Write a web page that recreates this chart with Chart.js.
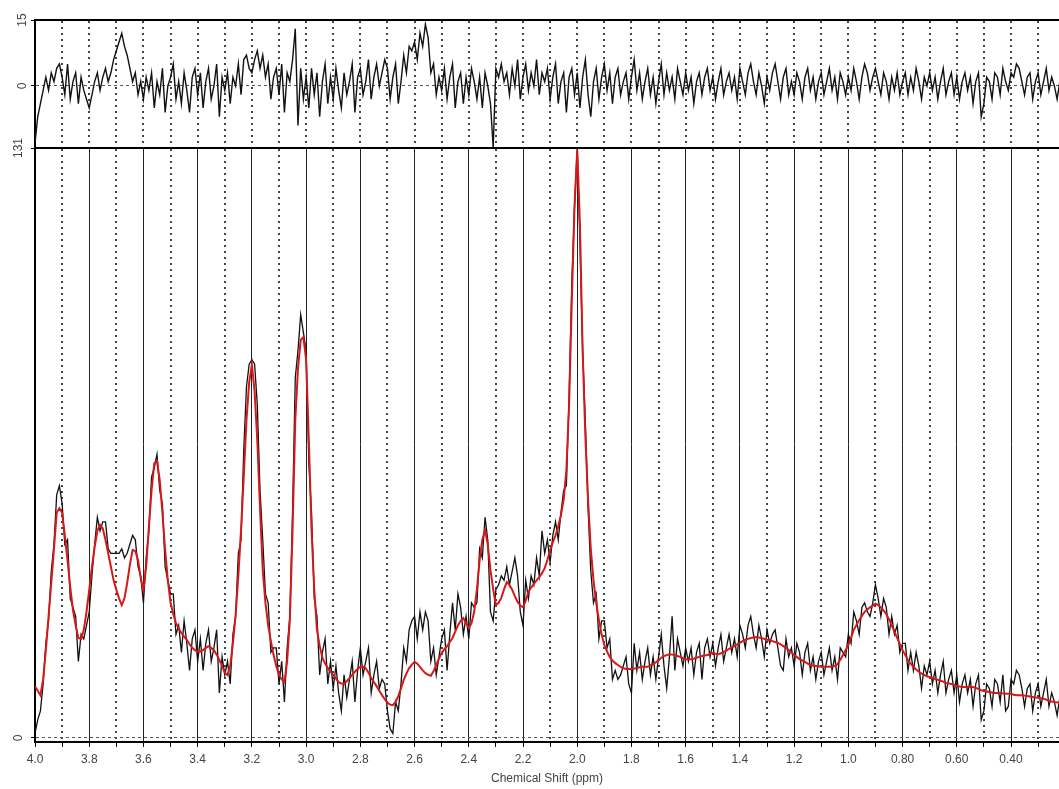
<!DOCTYPE html>
<html>
<head>
<meta charset="utf-8">
<title>Spectrum fit</title>
<script src="https://cdn.jsdelivr.net/npm/chart.js@4.4.0/dist/chart.umd.min.js"></script>
<style>
  body { margin: 0; background: #fff; }
  #wrap { position: relative; width: 1059px; height: 789px; overflow: hidden; }
  canvas { position: absolute; left: 0; }
  #resChart { top: 0; }
  #specChart { top: 130px; }
</style>
</head>
<body>
<div id="wrap">
  <canvas id="resChart" width="1059" height="160"></canvas>
  <canvas id="specChart" width="1059" height="659"></canvas>
</div>
<script>
// x axis (ppm, reversed)
const xMax = 4.0;
const xMin = 0.223;
const majorTicks = [4.0, 3.8, 3.6, 3.4, 3.2, 3.0, 2.8, 2.6, 2.4, 2.2, 2.0, 1.8, 1.6, 1.4, 1.2, 1.0, 0.8, 0.6, 0.4];
const majorLabels = ["4.0", "3.8", "3.6", "3.4", "3.2", "3.0", "2.8", "2.6", "2.4", "2.2", "2.0", "1.8", "1.6", "1.4", "1.2", "1.0", "0.80", "0.60", "0.40"];
const minorTicks = [3.9, 3.7, 3.5, 3.3, 3.1, 2.9, 2.7, 2.5, 2.3, 2.1, 1.9, 1.7, 1.5, 1.3, 1.1, 0.9, 0.7, 0.5, 0.3];
const allTicks = majorTicks.concat(minorTicks);

// y axes
const resTicks = [0, 15];
const specTicks = [0, 131];

// residual, 4.00 -> 0.22 ppm in 0.01 steps
const residual = [
  -13, -7, -4, -1, 2, -1, 3, 1, 4, 5,     // 4.00
  2, -2, 5, -3, 1, 3, -4, 2, -1, -3,      // 3.90
  -5, -2, 1, 3, -1, 2, 4, 1, 3, 6,        // 3.80
  8, 10, 12, 9, 7, 4, 1, 3, -2, 1,        // 3.70
  -3, 2, -1, 3, -5, 1, -2, 4, -6, 0,      // 3.60
  2, 5, -3, 1, -4, 3, -1, -6, 2, 4,       // 3.50
  -2, 3, -5, 1, 4, -3, 0, 5, -7, 2,       // 3.40
  -1, 3, -4, 2, 0, 5, -2, 6, 7, 4,        // 3.30
  3, 6, 8, 4, 7, 2, 5, -3, 2, 4,          // 3.20
  -2, 5, -6, 3, 1, 6, 13, -9, 4, -3,      // 3.10
  2, -5, 4, -2, 3, -7, 1, 5, -4, 2,       // 3.00
  -3, 4, -1, -5, 3, -2, 1, 5, -6, 2,      // 2.90
  4, -2, 1, 6, -3, 2, 5, 0, 3, 6,         // 2.80
  4, -3, 2, 5, -4, 1, 7, 3, 9, 8,         // 2.70
  10, 6, 12, 9, 14, 11, 3, 5, -2, 2,      // 2.60
  -1, 4, -3, 2, 5, -5, 1, 3, -4, 2,       // 2.50
  -2, 4, 1, -3, 2, -5, 3, 0, -4, -14,     // 2.40
  4, 2, 5, 1, 3, -2, 4, 0, 6, -3,         // 2.30
  2, 5, -1, 3, 0, 6, -2, 3, 1, 4,         // 2.20
  -3, 2, 5, -4, 1, 3, -6, 2, 4, -2,       // 2.10
  3, -5, 2, 6, -2, -7, 1, 4, -3, 2,       // 2.00
  5, -1, 3, -4, 2, 4, -2, 1, 3, -3,       // 1.90
  2, 6, -1, 3, -3, 1, 4, -2, 2, -4,       // 1.80
  1, 5, -2, 3, -1, 2, -3, 4, 1, -2,       // 1.70
  3, -1, 2, -4, 1, 3, -2, 2, 4, -1,       // 1.60
  2, -3, 1, 4, -2, 1, 3, -1, 2, -3,       // 1.50
  4, 1, -2, 3, 5, 1, -2, 3, 0, -4,        // 1.40
  2, -1, 3, 5, 1, -3, 2, 4, -2, 1,        // 1.30
  -2, 3, 1, -3, 2, 4, -1, 2, -3, 1,       // 1.20
  3, -2, 1, 4, -1, 2, -3, 3, 1, -2,       // 1.10
  2, -1, 4, 1, -3, 2, 5, 3, -1, 2,        // 1.00
  4, 1, -2, 3, 1, -3, 2, -1, 3, -2,       // 0.90
  1, 3, -2, 2, -1, 4, 1, -3, 2, 0,        // 0.80
  3, -1, 2, -3, 1, 4, -2, 1, 3, -2,       // 0.70
  2, -3, 1, 3, -1, 2, -4, 1, 3, -7,       // 0.60
  -4, 2, 1, -3, 3, 2, -2, 4, 1, -1,       // 0.50
  3, 2, 5, 4, 1, -2, 2, 3, -3, 1,         // 0.40
  3, -2, 1, 4, -1, 2, 0, -3, 1            // 0.30
];

// measured spectrum (black)
const spectrum = [
  1, 4, 6, 12, 21, 26, 37, 43, 54, 56,
  52, 43, 44, 31, 29, 27, 17, 23, 22, 25,
  28, 36, 43, 49, 46, 48, 48, 42, 41, 41,
  41, 41, 42, 40, 41, 43, 45, 44, 38, 36,
  30, 40, 46, 58, 60, 63, 55, 52, 38, 35,
  32, 32, 23, 25, 19, 26, 21, 15, 22, 24,
  17, 22, 15, 21, 24, 17, 20, 24, 10, 18,
  14, 17, 12, 23, 27, 41, 44, 64, 78, 83,
  84, 83, 74, 55, 44, 32, 30, 19, 20, 20,
  12, 17, 8, 20, 27, 50, 80, 86, 94, 90,
  86, 61, 50, 31, 27, 14, 19, 22, 12, 17,
  11, 16, 10, 6, 14, 9, 13, 17, 8, 15,
  20, 14, 17, 20, 10, 14, 17, 11, 13, 12,
  6, 2, 1, 8, 6, 12, 20, 17, 24, 26,
  27, 22, 28, 24, 28, 26, 17, 20, 14, 18,
  22, 24, 15, 23, 30, 24, 32, 29, 23, 27,
  22, 30, 29, 30, 42, 40, 49, 44, 28, 26,
  33, 34, 36, 35, 38, 34, 37, 40, 36, 28,
  25, 35, 31, 36, 34, 40, 36, 46, 41, 44,
  39, 45, 48, 44, 50, 55, 56, 76, 101, 118,
  131, 110, 86, 70, 51, 37, 30, 32, 22, 26,
  26, 20, 22, 13, 15, 13, 14, 16, 18, 12,
  10, 21, 15, 19, 13, 17, 20, 14, 18, 13,
  18, 23, 16, 11, 18, 27, 15, 22, 19, 16,
  20, 17, 20, 14, 19, 21, 13, 20, 22, 18,
  21, 16, 20, 23, 17, 20, 23, 19, 22, 18,
  25, 23, 20, 25, 27, 23, 20, 25, 22, 18,
  24, 21, 23, 24, 20, 16, 15, 22, 18, 20,
  16, 21, 19, 14, 19, 21, 15, 18, 13, 17,
  19, 14, 17, 20, 15, 18, 13, 20, 19, 18,
  23, 21, 28, 26, 23, 29, 30, 28, 27, 30,
  34, 31, 27, 31, 29, 23, 27, 23, 25, 19,
  21, 21, 15, 19, 15, 19, 16, 11, 16, 14,
  17, 12, 15, 10, 14, 17, 10, 13, 15, 10,
  14, 8, 12, 14, 10, 13, 7, 12, 14, 4,
  6, 12, 11, 7, 13, 12, 8, 14, 6, 7,
  13, 12, 15, 14, 11, 7, 11, 12, 6, 10,
  12, 7, 10, 13, 7, 10, 8, 5, 9
];

// model fit (red)
const fit = [
  11.5, 10.5, 9.5, 13, 19.5, 27, 34.4, 42, 50, 51,
  50, 45, 39.5, 33.5, 28.4, 25, 22.2, 22, 24, 28,
  32.9, 38, 42.4, 46, 47.3, 46.5, 44, 41, 38, 35,
  32.9, 31, 29.5, 31, 34.4, 38.5, 41.7, 41.5, 39.5, 35.5,
  32.9, 38, 46.8, 55, 61, 61.5, 57.3, 50, 41.7, 35,
  30, 27.5, 25.5, 24.3, 23.3, 22.5, 21.8, 20.8, 20, 19.5,
  19.1, 19.2, 19.5, 20, 20.4, 20, 19.5, 18.5, 17.3, 16,
  14.5, 14, 16, 21, 27.3, 36, 46.2, 58, 70.6, 79,
  82.8, 77, 66, 51, 37.3, 30, 25, 21.5, 18.4, 16,
  14, 13, 12.4, 17, 26.2, 46, 70.6, 82, 88.4, 89,
  84, 66, 46.2, 33, 24, 20.5, 17.8, 16.5, 15.5, 14.7,
  14, 13.2, 12.4, 12.1, 12, 12.6, 13.3, 14, 14.7, 15.3,
  15.8, 15.8, 15.5, 14.5, 13.3, 12.4, 11.5, 10.5, 9.5, 8.6,
  7.8, 7.4, 7.3, 8, 9.3, 11, 12.9, 14.3, 15.5, 16.3,
  16.9, 16.5, 15.8, 15, 14.4, 14, 13.8, 14.8, 16.2, 17.6,
  18.9, 19.7, 20.4, 21.3, 22.2, 23.6, 25, 26, 26.6, 25.5,
  24.4, 25.5, 28, 33, 39.5, 44, 46.2, 43, 37.3, 33,
  29.5, 30, 31.1, 33, 34.6, 34, 32.9, 31.5, 30.2, 29.4,
  29, 30.5, 32.4, 33.4, 34.2, 35, 35.7, 36.6, 37.7, 39.5,
  41.7, 43.4, 45, 47, 49.5, 53, 59.5, 74, 97, 118,
  130.5, 114, 86, 67, 52.8, 42, 35, 30, 26.2, 23,
  20.6, 19.2, 18, 17.2, 16.6, 16.2, 15.8, 15.5, 15.3, 15.3,
  15.3, 15.4, 15.5, 15.7, 15.8, 15.8, 15.8, 16.1, 16.4, 16.8,
  17.3, 17.8, 18.2, 18.4, 18.6, 18.5, 18.4, 18.2, 18, 17.7,
  17.5, 17.5, 17.5, 17.6, 17.8, 18, 18.2, 18.3, 18.4, 18.7,
  18.9, 18.7, 18.6, 18.8, 19.1, 19.4, 19.8, 20.1, 20.4, 20.8,
  21.1, 21.5, 21.8, 22, 22.2, 22.3, 22.4, 22.3, 22.2, 22,
  21.8, 21.7, 21.5, 21.3, 21.1, 20.8, 20.4, 20, 19.5, 19,
  18.4, 18, 17.5, 17.2, 16.9, 16.5, 16.2, 16.1, 16, 15.9,
  15.8, 15.8, 15.8, 15.8, 15.8, 16, 16.4, 17.3, 18.4, 19.5,
  20.6, 22.3, 24, 25.1, 26.2, 27.1, 28, 28.5, 29, 29.4,
  29.8, 29.5, 29, 28.3, 27.5, 26.3, 25, 23.6, 22.2, 20.8,
  19.5, 18.4, 17.3, 16.5, 15.8, 15.2, 14.7, 14.3, 14, 13.7,
  13.5, 13.3, 13.1, 12.9, 12.7, 12.5, 12.2, 12.1, 12, 11.8,
  11.5, 11.4, 11.3, 11.3, 11.3, 11.3, 11.3, 11.1, 10.9, 10.6,
  10.4, 10.3, 10.2, 10.1, 10, 10, 10, 9.9, 9.8, 9.8,
  9.8, 9.6, 9.5, 9.5, 9.5, 9.4, 9.3, 9.2, 9.1, 9,
  8.9, 8.8, 8.7, 8.5, 8.2, 8.1, 8, 7.9, 7.8
];

// sample positions of the spectrometer grid
const shift = residual.map((_, i) => Math.round((4 - i * 0.01) * 100) / 100);
const toPoints = (vals) => vals.map((v, i) => ({ x: shift[i], y: v }));

const labelFont = { family: "'Liberation Sans', Arial, sans-serif", size: 12 };
const labelColor = "#444";

function yAxis(min, max, tickVals, dash) {
  return {
    type: "linear",
    min: min,
    max: max,
    afterBuildTicks: (s) => { s.ticks = tickVals.map(v => ({ value: v })); },
    afterFit: (s) => { s.width = 35; },
    border: { display: true, color: "#000", width: 2, dash: dash },
    grid: {
      color: (c) => (c.tick && c.tick.value === 0) ? "#555" : "rgba(0,0,0,0)",
      lineWidth: 1,
      tickLength: 4,
      tickColor: "#000"
    },
    ticks: {
      minRotation: 90,
      maxRotation: 90,
      crossAlign: "center",
      padding: 2,
      color: labelColor,
      font: labelFont
    }
  };
}

const lineOpts = { pointRadius: 0, tension: 0, fill: false };

new Chart(document.getElementById("resChart"), {
  type: "line",
  data: {
    datasets: [{ ...lineOpts, data: toPoints(residual), borderColor: "#111", borderWidth: 1.4 }]
  },
  options: {
    responsive: false,
    animation: false,
    parsing: false,
    layout: { padding: { top: 20, bottom: 12, left: 0, right: 0 } },
    plugins: { legend: { display: false }, tooltip: { enabled: false } },
    scales: {
      x: {
        type: "linear",
        position: "top",
        reverse: true,
        min: xMin,
        max: xMax,
        afterBuildTicks: (s) => { s.ticks = allTicks.map(v => ({ value: v })); },
        border: { display: true, color: "#000", width: 2, dash: [2, 4] },
        grid: { color: "#444", lineWidth: 2, drawTicks: false },
        ticks: { display: false }
      },
      y: yAxis(-14.1, 15, resTicks, [3, 3])
    }
  }
});

new Chart(document.getElementById("specChart"), {
  type: "line",
  data: {
    datasets: [
      { ...lineOpts, data: toPoints(fit), borderColor: "#d81818", borderWidth: 2 },
      { ...lineOpts, data: toPoints(spectrum), borderColor: "#111", borderWidth: 1.3 }
    ]
  },
  options: {
    responsive: false,
    animation: false,
    parsing: false,
    layout: { padding: { top: 18, bottom: 0, left: 0, right: 0 } },
    plugins: { legend: { display: false }, tooltip: { enabled: false } },
    scales: {
      x: {
        type: "linear",
        position: "bottom",
        reverse: true,
        min: xMin,
        max: xMax,
        afterBuildTicks: (s) => { s.ticks = allTicks.map(v => ({ value: v })); },
        afterFit: (s) => { s.height = 47; },
        border: { display: true, color: "#000", width: 2 },
        grid: {
          color: (c) => (c.tick && majorTicks.includes(c.tick.value)) ? "#222" : "rgba(0,0,0,0)",
          lineWidth: 1,
          tickLength: 5,
          tickColor: "#000"
        },
        ticks: {
          autoSkip: false,
          maxRotation: 0,
          padding: 5,
          color: labelColor,
          font: labelFont,
          callback: (v) => {
            const i = majorTicks.indexOf(v);
            return i >= 0 ? majorLabels[i] : "";
          }
        },
        title: {
          display: true,
          text: "Chemical Shift (ppm)",
          color: labelColor,
          font: labelFont,
          padding: { top: 0, bottom: 3 }
        }
      },
      xm: {
        type: "linear",
        position: "top",
        reverse: true,
        min: xMin,
        max: xMax,
        afterBuildTicks: (s) => { s.ticks = minorTicks.map(v => ({ value: v })); },
        border: { display: true, color: "#000", width: 2, dash: [2, 4] },
        grid: { color: "#444", lineWidth: 2, drawTicks: false },
        ticks: { display: false }
      },
      y: yAxis(-0.9, 131, specTicks, [3, 3])
    }
  }
});
</script>
</body>
</html>
